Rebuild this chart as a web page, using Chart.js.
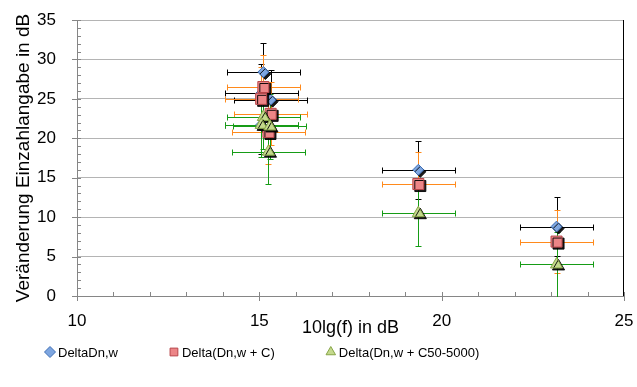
<!DOCTYPE html>
<html>
<head>
<meta charset="utf-8">
<script src="https://cdn.jsdelivr.net/npm/chart.js@4.4.1/dist/chart.umd.min.js"></script>
<style>
  html, body { margin: 0; padding: 0; background: #fff; }
</style>
</head>
<body>
<canvas id="chart" width="637" height="387"></canvas>
<script>
// series names (legend)
const seriesNames = ['DeltaDn,w', 'Delta(Dn,w + C)', 'Delta(Dn,w + C50-5000)'];

// DeltaDn,w
const dnwX = [15.11, 15.05, 15.31, 15.05, 19.36, 23.15];
const dnwY = [28.4, 25.7, 24.9, 21.7, 16.0, 8.8];
const dnwXErr = [1.0, 1.0, 1.0, 1.0, 1.0, 1.0];
const dnwYErr = [3.7, 3.7, 3.7, 3.7, 3.7, 3.7];

// Delta(Dn,w + C)
const dnwcX = [15.11, 15.05, 15.31, 15.25, 19.36, 23.15];
const dnwcY = [26.5, 25.0, 23.1, 20.8, 14.2, 6.9];
const dnwcXErr = [1.0, 1.0, 1.0, 1.0, 1.0, 1.0];
const dnwcYErr = [4.0, 4.0, 4.0, 4.0, 4.0, 4.0];

// Delta(Dn,w + C50-5000)
const dnwc50X = [15.11, 15.05, 15.29, 15.25, 19.36, 23.15];
const dnwc50Y = [22.7, 21.7, 21.5, 18.3, 10.5, 4.0];
const dnwc50XErr = [1.0, 1.0, 1.0, 1.0, 1.0, 1.0];
const dnwc50YErr = [4.1, 4.1, 4.1, 4.1, 4.1, 4.1];

const xTicks = [10, 15, 20, 25];
const yTicks = [0, 5, 10, 15, 20, 25, 30, 35];

const font = 'Liberation Sans';

function points(xs, ys) {
    return xs.map(function (x, i) { return { x: x, y: ys[i] }; });
}

// error bars, drawn behind the markers
const errorBars = {
    id: 'errorBars',
    beforeDatasetsDraw: function (chart) {
        const ctx = chart.ctx;
        const area = chart.chartArea;
        const xs = chart.scales.x;
        const ys = chart.scales.y;
        const cap = 3;
        ctx.save();
        ctx.beginPath();
        ctx.rect(area.left, area.top, area.right - area.left, area.bottom - area.top + 1);
        ctx.clip();
        ctx.lineWidth = 1;
        chart.data.datasets.forEach(function (ds) {
            ctx.strokeStyle = ds.errorColor;
            ds.data.forEach(function (p, i) {
                const px = Math.round(xs.getPixelForValue(p.x)) + 0.5;
                const py = Math.round(ys.getPixelForValue(p.y)) + 0.5;
                const x0 = Math.round(xs.getPixelForValue(p.x - ds.xErr[i])) + 0.5;
                const x1 = Math.round(xs.getPixelForValue(p.x + ds.xErr[i])) + 0.5;
                const y0 = Math.round(ys.getPixelForValue(p.y - ds.yErr[i])) + 0.5;
                const y1 = Math.round(ys.getPixelForValue(p.y + ds.yErr[i])) + 0.5;
                ctx.beginPath();
                ctx.moveTo(x0, py); ctx.lineTo(x1, py);
                ctx.moveTo(x0, py - cap); ctx.lineTo(x0, py + cap);
                ctx.moveTo(x1, py - cap); ctx.lineTo(x1, py + cap);
                ctx.moveTo(px, y0); ctx.lineTo(px, y1);
                ctx.moveTo(px - cap, y0); ctx.lineTo(px + cap, y0);
                ctx.moveTo(px - cap, y1); ctx.lineTo(px + cap, y1);
                ctx.stroke();
            });
        });
        ctx.restore();
    }
};

// drop shadow under the markers
const markerShadow = {
    id: 'markerShadow',
    beforeDatasetDraw: function (chart) {
        const ctx = chart.ctx;
        ctx.save();
        ctx.shadowColor = 'rgba(0,0,0,0.9)';
        ctx.shadowOffsetX = 2;
        ctx.shadowOffsetY = 2;
        ctx.shadowBlur = 0;
    },
    afterDatasetDraw: function (chart) {
        chart.ctx.restore();
    }
};

// minor/major tick marks and the right frame line
const axisMarks = {
    id: 'axisMarks',
    afterDraw: function (chart) {
        const ctx = chart.ctx;
        const area = chart.chartArea;
        const xs = chart.scales.x;
        const ys = chart.scales.y;
        ctx.save();
        ctx.lineWidth = 1;
        ctx.strokeStyle = '#868686';
        ctx.beginPath();
        for (let v = 0; v <= 35; v++) {
            const py = Math.round(ys.getPixelForValue(v)) + 0.5;
            if (v % 5 === 0) {
                ctx.moveTo(area.left - 5, py); ctx.lineTo(area.left + 4, py);
            } else {
                ctx.moveTo(area.left, py); ctx.lineTo(area.left + 4, py);
            }
        }
        for (let v = 10; v <= 25; v++) {
            const px = Math.round(xs.getPixelForValue(v)) + 0.5;
            if (v % 5 === 0) {
                ctx.moveTo(px, area.bottom - 4); ctx.lineTo(px, area.bottom + 5);
            } else {
                ctx.moveTo(px, area.bottom - 4); ctx.lineTo(px, area.bottom);
            }
        }
        ctx.stroke();
        ctx.strokeStyle = '#000';
        ctx.beginPath();
        const rx = Math.round(area.right) - 0.5;
        ctx.moveTo(rx, area.top); ctx.lineTo(rx, area.bottom);
        ctx.stroke();
        ctx.restore();
    }
};

// legend row under the axis title, spaced like the original
const bottomLegend = {
    id: 'bottomLegend',
    afterDraw: function (chart) {
        const ctx = chart.ctx;
        const y = 352;
        const gap = 52;
        let x = 46;
        ctx.save();
        ctx.font = '13px "' + font + '"';
        ctx.textBaseline = 'middle';
        chart.data.datasets.forEach(function (ds) {
            ctx.fillStyle = ds.backgroundColor;
            ctx.strokeStyle = ds.borderColor;
            ctx.lineWidth = 1;
            Chart.helpers.drawPoint(ctx, { pointStyle: ds.pointStyle, radius: 5.5, borderWidth: 1, rotation: 0 }, x + 4, y);
            ctx.fillStyle = '#000';
            ctx.fillText(ds.label, x + 12, y + 1);
            x += 12 + ctx.measureText(ds.label).width + gap;
        });
        ctx.restore();
    }
};

new Chart(document.getElementById('chart'), {
    type: 'scatter',
    data: {
        datasets: [{
            label: seriesNames[0],
            data: points(dnwX, dnwY),
            xErr: dnwXErr,
            yErr: dnwYErr,
            errorColor: '#000000',
            pointStyle: 'rectRot',
            pointRadius: 5.5,
            backgroundColor: '#7ea6e0',
            borderColor: '#3f6fb5',
            borderWidth: 1,
            order: 3
        }, {
            label: seriesNames[1],
            data: points(dnwcX, dnwcY),
            xErr: dnwcXErr,
            yErr: dnwcYErr,
            errorColor: '#ff8a1c',
            pointStyle: 'rect',
            pointRadius: 7.8,
            backgroundColor: '#ec8587',
            borderColor: '#b8464a',
            borderWidth: 1,
            order: 2
        }, {
            label: seriesNames[2],
            data: points(dnwc50X, dnwc50Y),
            xErr: dnwc50XErr,
            yErr: dnwc50YErr,
            errorColor: '#169c16',
            pointStyle: 'triangle',
            pointRadius: 7,
            backgroundColor: '#c4d98c',
            borderColor: '#86a447',
            borderWidth: 1,
            order: 1
        }]
    },
    options: {
        responsive: false,
        animation: false,
        layout: { padding: { top: 20, right: 13, bottom: 0, left: 0 } },
        scales: {
            x: {
                type: 'linear',
                min: xTicks[0],
                max: xTicks[xTicks.length - 1],
                afterBuildTicks: function (scale) {
                    scale.ticks = xTicks.map(function (v) { return { value: v }; });
                },
                ticks: { padding: 15, color: '#000', font: { family: font, size: 17 } },
                grid: { display: false, drawTicks: false },
                border: { color: '#868686' },
                title: {
                    display: true,
                    text: '10lg(f) in dB',
                    color: '#000',
                    font: { family: font, size: 18 },
                    padding: { top: 0, bottom: 48.2 }
                },
                afterFit: function (scale) {
                    scale.height = 91;
                    scale.paddingLeft = 0;
                    scale.paddingRight = 0;
                }
            },
            y: {
                min: yTicks[0],
                max: yTicks[yTicks.length - 1],
                afterBuildTicks: function (scale) {
                    scale.ticks = yTicks.map(function (v) { return { value: v }; });
                },
                ticks: { padding: 21, color: '#000', font: { family: font, size: 17 } },
                grid: { color: '#b4b4b4', drawTicks: false },
                border: { color: '#868686' },
                title: {
                    display: true,
                    text: 'Veränderung Einzahlangabe in dB',
                    color: '#000',
                    font: { family: font, size: 19 },
                    padding: { top: 12, bottom: 0 }
                },
                afterFit: function (scale) {
                    scale.width = 77;
                    scale.paddingTop = 0;
                    scale.paddingBottom = 0;
                }
            }
        },
        plugins: {
            legend: { display: false },
            tooltip: { enabled: false }
        }
    },
    plugins: [errorBars, markerShadow, axisMarks, bottomLegend]
});
</script>
</body>
</html>
